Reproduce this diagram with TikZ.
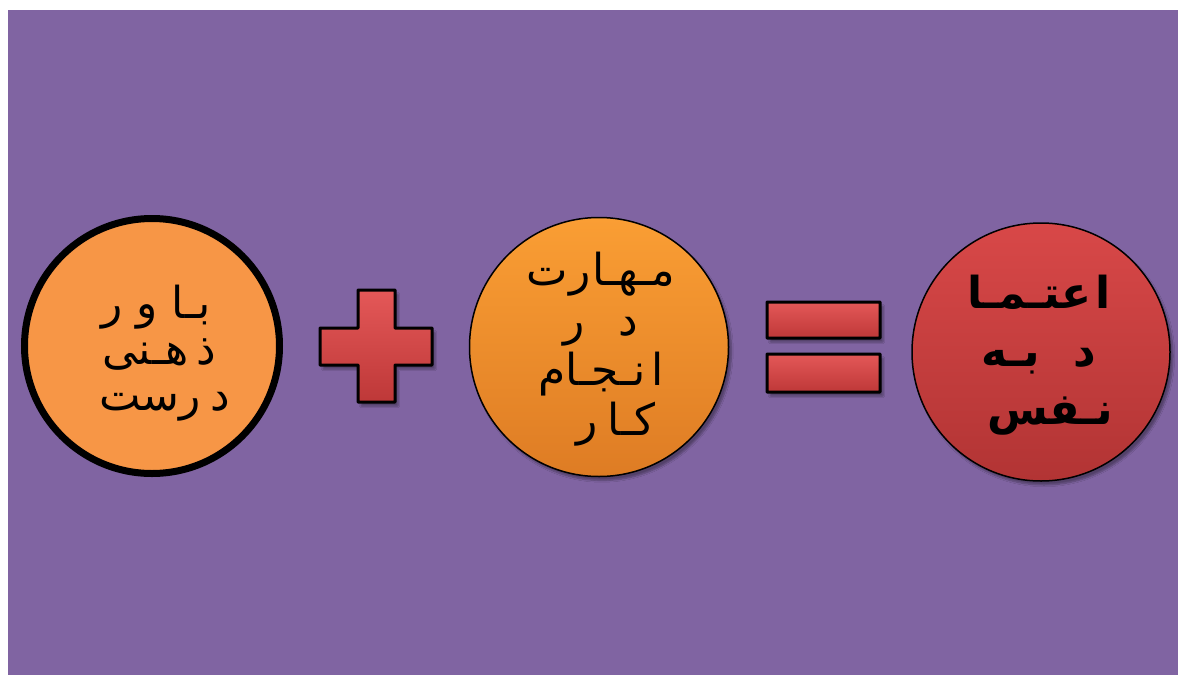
\documentclass[tikz,border=0pt]{standalone}
\usepackage{fontspec}
\TeXXeTstate=1
\newfontfamily\arabicfont[Script=Arabic]{DejaVu Sans}
\usetikzlibrary{shadows.blur}
\definecolor{bgpurple}{RGB}{128,100,162}
\definecolor{orangeA}{RGB}{247,150,70}
\definecolor{orangeTop}{RGB}{250,158,52}
\definecolor{orangeBot}{RGB}{222,124,36}
\definecolor{redTop}{RGB}{216,72,72}
\definecolor{redBot}{RGB}{178,52,52}
\definecolor{signTop}{RGB}{228,88,88}
\definecolor{signBot}{RGB}{190,56,56}
\newcommand{\gp}[1]{\kern#1pt}
\tikzset{
  ball/.style={circle, inner sep=0pt},
  txt/.style={inner sep=0pt, align=center, text=black},
  arabtxt/.style={font=\arabicfont\fontsize{44}{46}\selectfont},
  arabtxtb/.style={font=\arabicfont\fontsize{44}{50}\selectfont},
  arabbold/.style={font=\arabicfont\bfseries\fontsize{44}{58}\selectfont},
  signpart/.style={draw=black, line width=3pt, top color=signTop, bottom color=signBot, rounded corners=0.5pt},
  softshadow/.style={blur shadow={shadow xshift=3pt, shadow yshift=-4pt, shadow blur steps=6, shadow opacity=35}}
}
\begin{document}
\begin{tikzpicture}[x=1pt,y=-1pt]
\useasboundingbox (0,0) rectangle (1179,675);
\fill[white] (0,0) rectangle (1179,675);
\fill[bgpurple] (8,10) rectangle (1178,675);

% circle 1
\node[ball, fill=orangeA, draw=black, line width=7pt, minimum size=255pt] (c1) at (152,346) {};
\node[txt, arabtxt] (c1t) at (156,353)
  {\beginR بـا\gp{14}و\gp{14}ر\endR\\\beginR ذ\gp{8}هـنی\gp{6}\endR\\\beginR د\gp{10}رست\gp{18}\endR};

% plus sign
\coordinate (plus) at (376,346);
\path[signpart, softshadow] (358,290) -- (395,290) -- (395,328) -- (432,328) -- (432,365) -- (395,365) -- (395,402) -- (358,402) -- (358,365) -- (320,365) -- (320,328) -- (358,328) -- cycle;

% circle 2
\node[ball, top color=orangeTop, bottom color=orangeBot, draw=black, line width=1.5pt, minimum size=259pt, softshadow] (c2) at (599,347) {};
\node[txt, arabtxtb] (c2t) at (601,349)
  {\beginR مـهـا\gp{2}ر\gp{1}ت\endR\\\beginR د\gp{34}ر\endR\\\beginR ا\gp{6}نـجـام\endR\\\beginR کـا\gp{10}ر\gp{30}\endR};

% equals sign
\coordinate (eq) at (823,347);
\path[signpart, softshadow] (767,302) rectangle (880,338);
\path[signpart, softshadow] (767,354) rectangle (880,392);

% circle 3
\node[ball, top color=redTop, bottom color=redBot, draw=black, line width=1.5pt, minimum size=258pt, softshadow] (c3) at (1041,352) {};
\node[txt, arabbold] (c3t) at (1039,355)
  {\beginR ا\gp{4}عتـمـا\endR\\\beginR د\gp{34}بـه\endR\\\beginR نـفس\gp{22}\endR};
\end{tikzpicture}
\end{document}
